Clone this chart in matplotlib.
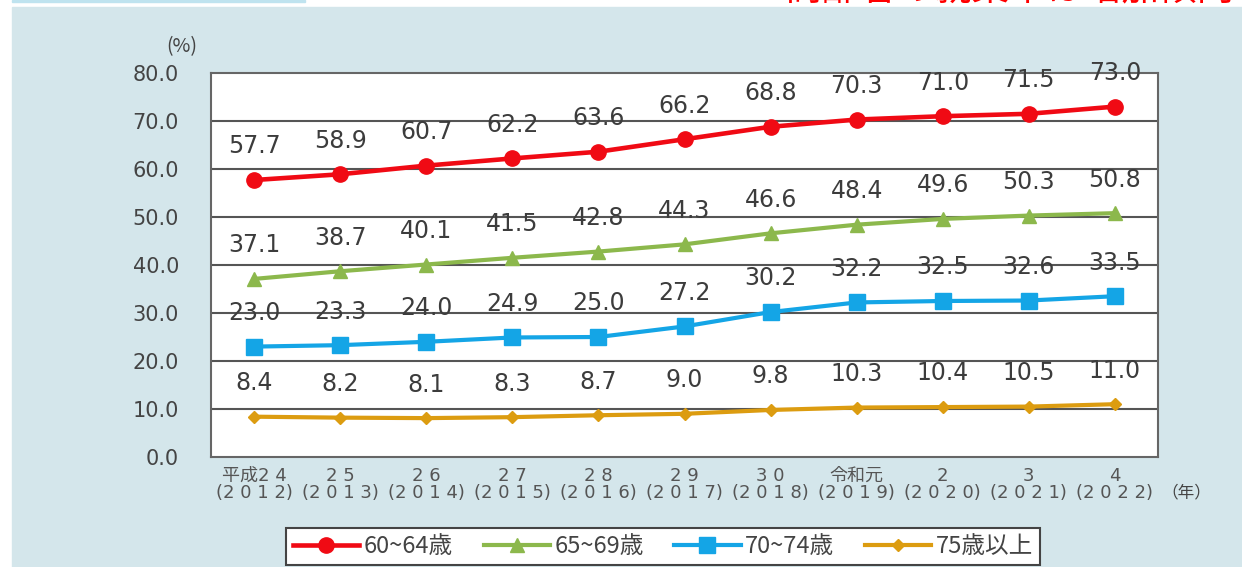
#!/usr/bin/env python3

import re
import numpy as np
import matplotlib.pyplot as plt
from matplotlib.patches import Rectangle

plt.rcParams['font.family'] = ['Noto Sans CJK JP', 'DejaVu Sans']

era = ['平成24', '25', '26', '27', '28', '29', '30', '令和元', '2', '3', '4']
western = ['2012', '2013', '2014', '2015', '2016', '2017', '2018', '2019',
           '2020', '2021', '2022']
age_60_64 = [57.7, 58.9, 60.7, 62.2, 63.6, 66.2, 68.8, 70.3, 71.0, 71.5, 73.0]
age_65_69 = [37.1, 38.7, 40.1, 41.5, 42.8, 44.3, 46.6, 48.4, 49.6, 50.3, 50.8]
age_70_74 = [23.0, 23.3, 24.0, 24.9, 25.0, 27.2, 30.2, 32.2, 32.5, 32.6, 33.5]
age_75_up = [8.4, 8.2, 8.1, 8.3, 8.7, 9.0, 9.8, 10.3, 10.4, 10.5, 11.0]
labels = ['60~64歳', '65~69歳', '70~74歳', '75歳以上']


def spaced(s):
    # the original uses wide letter spacing between digits
    return re.sub(r'\d+', lambda m: ' '.join(m.group()), s)


def main():
    W, H = 1242, 567
    fig = plt.figure(figsize=(W / 100, H / 100), dpi=100, facecolor='white')

    # panel background
    fig.patches.append(Rectangle((12 / W, 0), 1 - 12 / W, 1 - 7 / H,
                                 transform=fig.transFigure, color='#d4e6eb', zorder=-10))
    fig.patches.append(Rectangle((12 / W, 1 - 2 / H), 293 / W, 2 / H,
                                 transform=fig.transFigure, color='#bfe3ef', zorder=-10))
    fig.text(1235 / W, 1 - 9 / H, '高齢者の就業率は増加傾向', color='#ff0000',
             fontsize=27, ha='right', va='bottom')

    ax = fig.add_axes([211 / W, 1 - 457 / H, (1158 - 211) / W, (457 - 73) / H])
    ax.set_zorder(2)
    ax.set_facecolor('white')
    x = np.arange(len(era))

    series = [
        (age_60_64, '#f00a14', 'o', 11, 3.3),
        (age_65_69, '#8cb84c', '^', 10, 3),
        (age_70_74, '#14a5e6', 's', 11, 3),
        (age_75_up, '#dc9c10', 'D', 6.5, 3),
    ]
    for (vals, col, mk, ms, lw), lab in zip(series, labels):
        ax.plot(x, vals, color=col, lw=lw, marker=mk, markersize=ms,
                label=lab, zorder=3)
        for xi, v in zip(x, vals):
            ax.text(xi, v + 7.0, f'{v:.1f}', ha='center', va='center',
                    fontsize=17, color='#3c3c3c', family='DejaVu Sans', zorder=4)

    ax.set_xlim(-0.5, len(era) - 0.5)
    ax.set_ylim(0, 80)
    ax.set_yticks(np.arange(0, 81, 10))
    ax.set_yticklabels([f'{v:.1f}' for v in np.arange(0, 81, 10)],
                       fontsize=15, color='#444444', family='DejaVu Sans')
    ax.set_xticks(x)
    xlabels = [spaced(e) + '\n(' + spaced(w) + ')' for e, w in zip(era, western)]
    ax.set_xticklabels(xlabels, fontsize=13, color='#555555', linespacing=0.95,
                       family=['DejaVu Sans', 'Noto Sans CJK JP'])
    ax.tick_params(axis='y', length=0, pad=23)
    ax.tick_params(axis='x', length=0, pad=7)
    for y in range(10, 80, 10):
        ax.axhline(y, color='#555555', lw=1.5, zorder=1)
    for s in ax.spines.values():
        s.set_color('#666666')
        s.set_linewidth(1.5)

    fig.text(182 / W, 1 - 47 / H, '(%)', fontsize=14, color='#444444',
             ha='center', va='center')
    fig.text(1186 / W, 1 - 493 / H, '（年）', fontsize=12, color='#444444',
             ha='center', va='center')

    leg = fig.legend(loc='upper center', bbox_to_anchor=(663 / W, 1 - 528 / H),
                     ncol=4, fontsize=17, frameon=True, fancybox=False,
                     framealpha=1, facecolor='white', borderaxespad=0,
                     handlelength=2.8, columnspacing=1.3, handletextpad=0.2,
                     borderpad=0.3)
    leg.set_zorder(3)
    leg.get_frame().set_edgecolor('#444444')
    leg.get_frame().set_linewidth(1.5)
    for t in leg.get_texts():
        t.set_color('#444444')

    plt.savefig('out.png', dpi=100)


if __name__ == '__main__':
    main()
